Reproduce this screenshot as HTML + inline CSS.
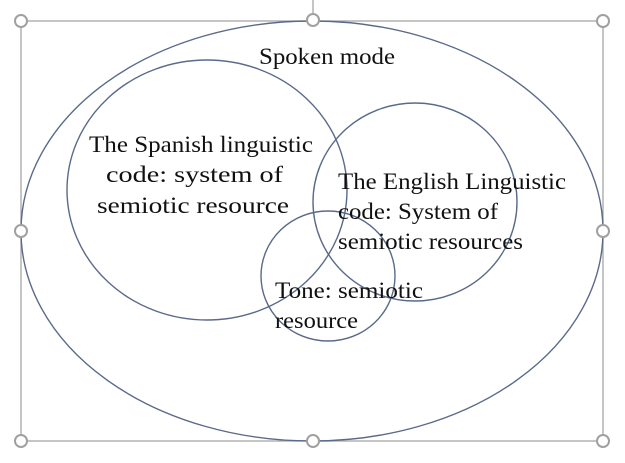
<!DOCTYPE html>
<html><head><style>html,body{margin:0;padding:0;background:#fff}svg{display:block}</style></head>
<body>
<svg width="625" height="463" viewBox="0 0 625 463" xmlns="http://www.w3.org/2000/svg">
<rect x="21" y="21" width="582" height="420" fill="none" stroke="#a6a6a6" stroke-width="1.3"/>
<line x1="313" y1="0" x2="313" y2="20" stroke="#a6a6a6" stroke-width="1.3"/>
<g fill="none" stroke="#5a6a8a" stroke-width="1.4">
<ellipse cx="312" cy="231" rx="291" ry="210"/>
<ellipse cx="207" cy="190" rx="140" ry="130"/>
<ellipse cx="415" cy="202" rx="102" ry="99"/>
<ellipse cx="328" cy="276" rx="67" ry="65"/>
</g>
<g fill="#fff" stroke="#a0a0a0" stroke-width="2">
<circle cx="21" cy="21" r="6"/><circle cx="313" cy="20" r="6"/><circle cx="603" cy="21" r="6"/>
<circle cx="21" cy="231" r="6"/><circle cx="603" cy="231" r="6"/>
<circle cx="21" cy="441" r="6"/><circle cx="313" cy="441" r="6"/><circle cx="603" cy="441" r="6"/>
</g>
<g font-family="Liberation Serif, serif" font-size="23" fill="#111">
<text x="259" y="64" textLength="136" lengthAdjust="spacingAndGlyphs">Spoken mode</text>
<text x="89" y="152" textLength="224" lengthAdjust="spacingAndGlyphs">The Spanish linguistic</text>
<text x="106" y="182" textLength="177" lengthAdjust="spacingAndGlyphs">code: system of</text>
<text x="97" y="213" textLength="192" lengthAdjust="spacingAndGlyphs">semiotic resource</text>
<text x="338" y="189" textLength="228" lengthAdjust="spacingAndGlyphs">The English Linguistic</text>
<text x="338" y="219" textLength="160" lengthAdjust="spacingAndGlyphs">code: System of</text>
<text x="338" y="249" textLength="185" lengthAdjust="spacingAndGlyphs">semiotic resources</text>
<text x="275" y="298" textLength="148" lengthAdjust="spacingAndGlyphs">Tone: semiotic</text>
<text x="275" y="328" textLength="83" lengthAdjust="spacingAndGlyphs">resource</text>
</g>
</svg>
</body></html>
